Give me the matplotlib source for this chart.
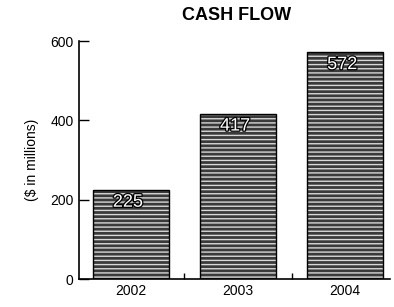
import matplotlib
matplotlib.use("Agg")
import matplotlib.pyplot as plt
import matplotlib.patheffects as pe
import numpy as np

years = ["2002", "2003", "2004"]
cash_flow = [225, 417, 572]
y_ticks = [0, 200, 400, 600]

plt.rcParams["font.family"] = ["Liberation Sans Narrow", "Liberation Sans", "DejaVu Sans"]
plt.rcParams["hatch.linewidth"] = 1.0

fig = plt.figure(figsize=(3.94, 3.07), dpi=100)
ax = fig.add_axes([0.2005, 0.0912, 0.79, 0.7752])

x = np.arange(len(years))
w = 0.71
# textured fill: dark grey with light streaks, then black frame on top
ax.bar(x, cash_flow, w, color="#3a3a3a", edgecolor="#d8d8d8", hatch="----",
       linewidth=0, zorder=2)
ax.bar(x, cash_flow, w, facecolor="none", edgecolor="black", linewidth=1.0,
       zorder=3)

for xi, v in zip(x, cash_flow):
    ax.text(xi - 0.03, v - 10, f"{v}", ha="center", va="top", fontsize=13,
            color="white", zorder=4,
            path_effects=[pe.withStroke(linewidth=1.8, foreground="black")])

ax.set_xlim(-0.486, 2.42)
ax.set_ylim(0, 600)
ax.set_yticks(y_ticks)
ax.set_yticklabels([str(t) for t in y_ticks], fontsize=10)
ax.set_xticks([0.495, 1.5])
ax.set_xticklabels([])
ax.tick_params(axis="x", direction="in", length=4, width=1)
ax.tick_params(axis="y", direction="in", length=7, width=1, pad=4)
for xi, yr in zip(x, years):
    ax.text(xi, -12, yr, ha="center", va="top", fontsize=10)

ax.spines["top"].set_visible(False)
ax.spines["right"].set_visible(False)
ax.spines["left"].set_linewidth(1.2)
ax.spines["bottom"].set_linewidth(1.2)

ax.set_ylabel("($ in millions)", fontsize=10, labelpad=8)
fig.text(0.6, 0.95, "CASH FLOW", ha="center", va="center", fontsize=13,
         fontweight="semibold")

fig.savefig("out.png", dpi=100)
